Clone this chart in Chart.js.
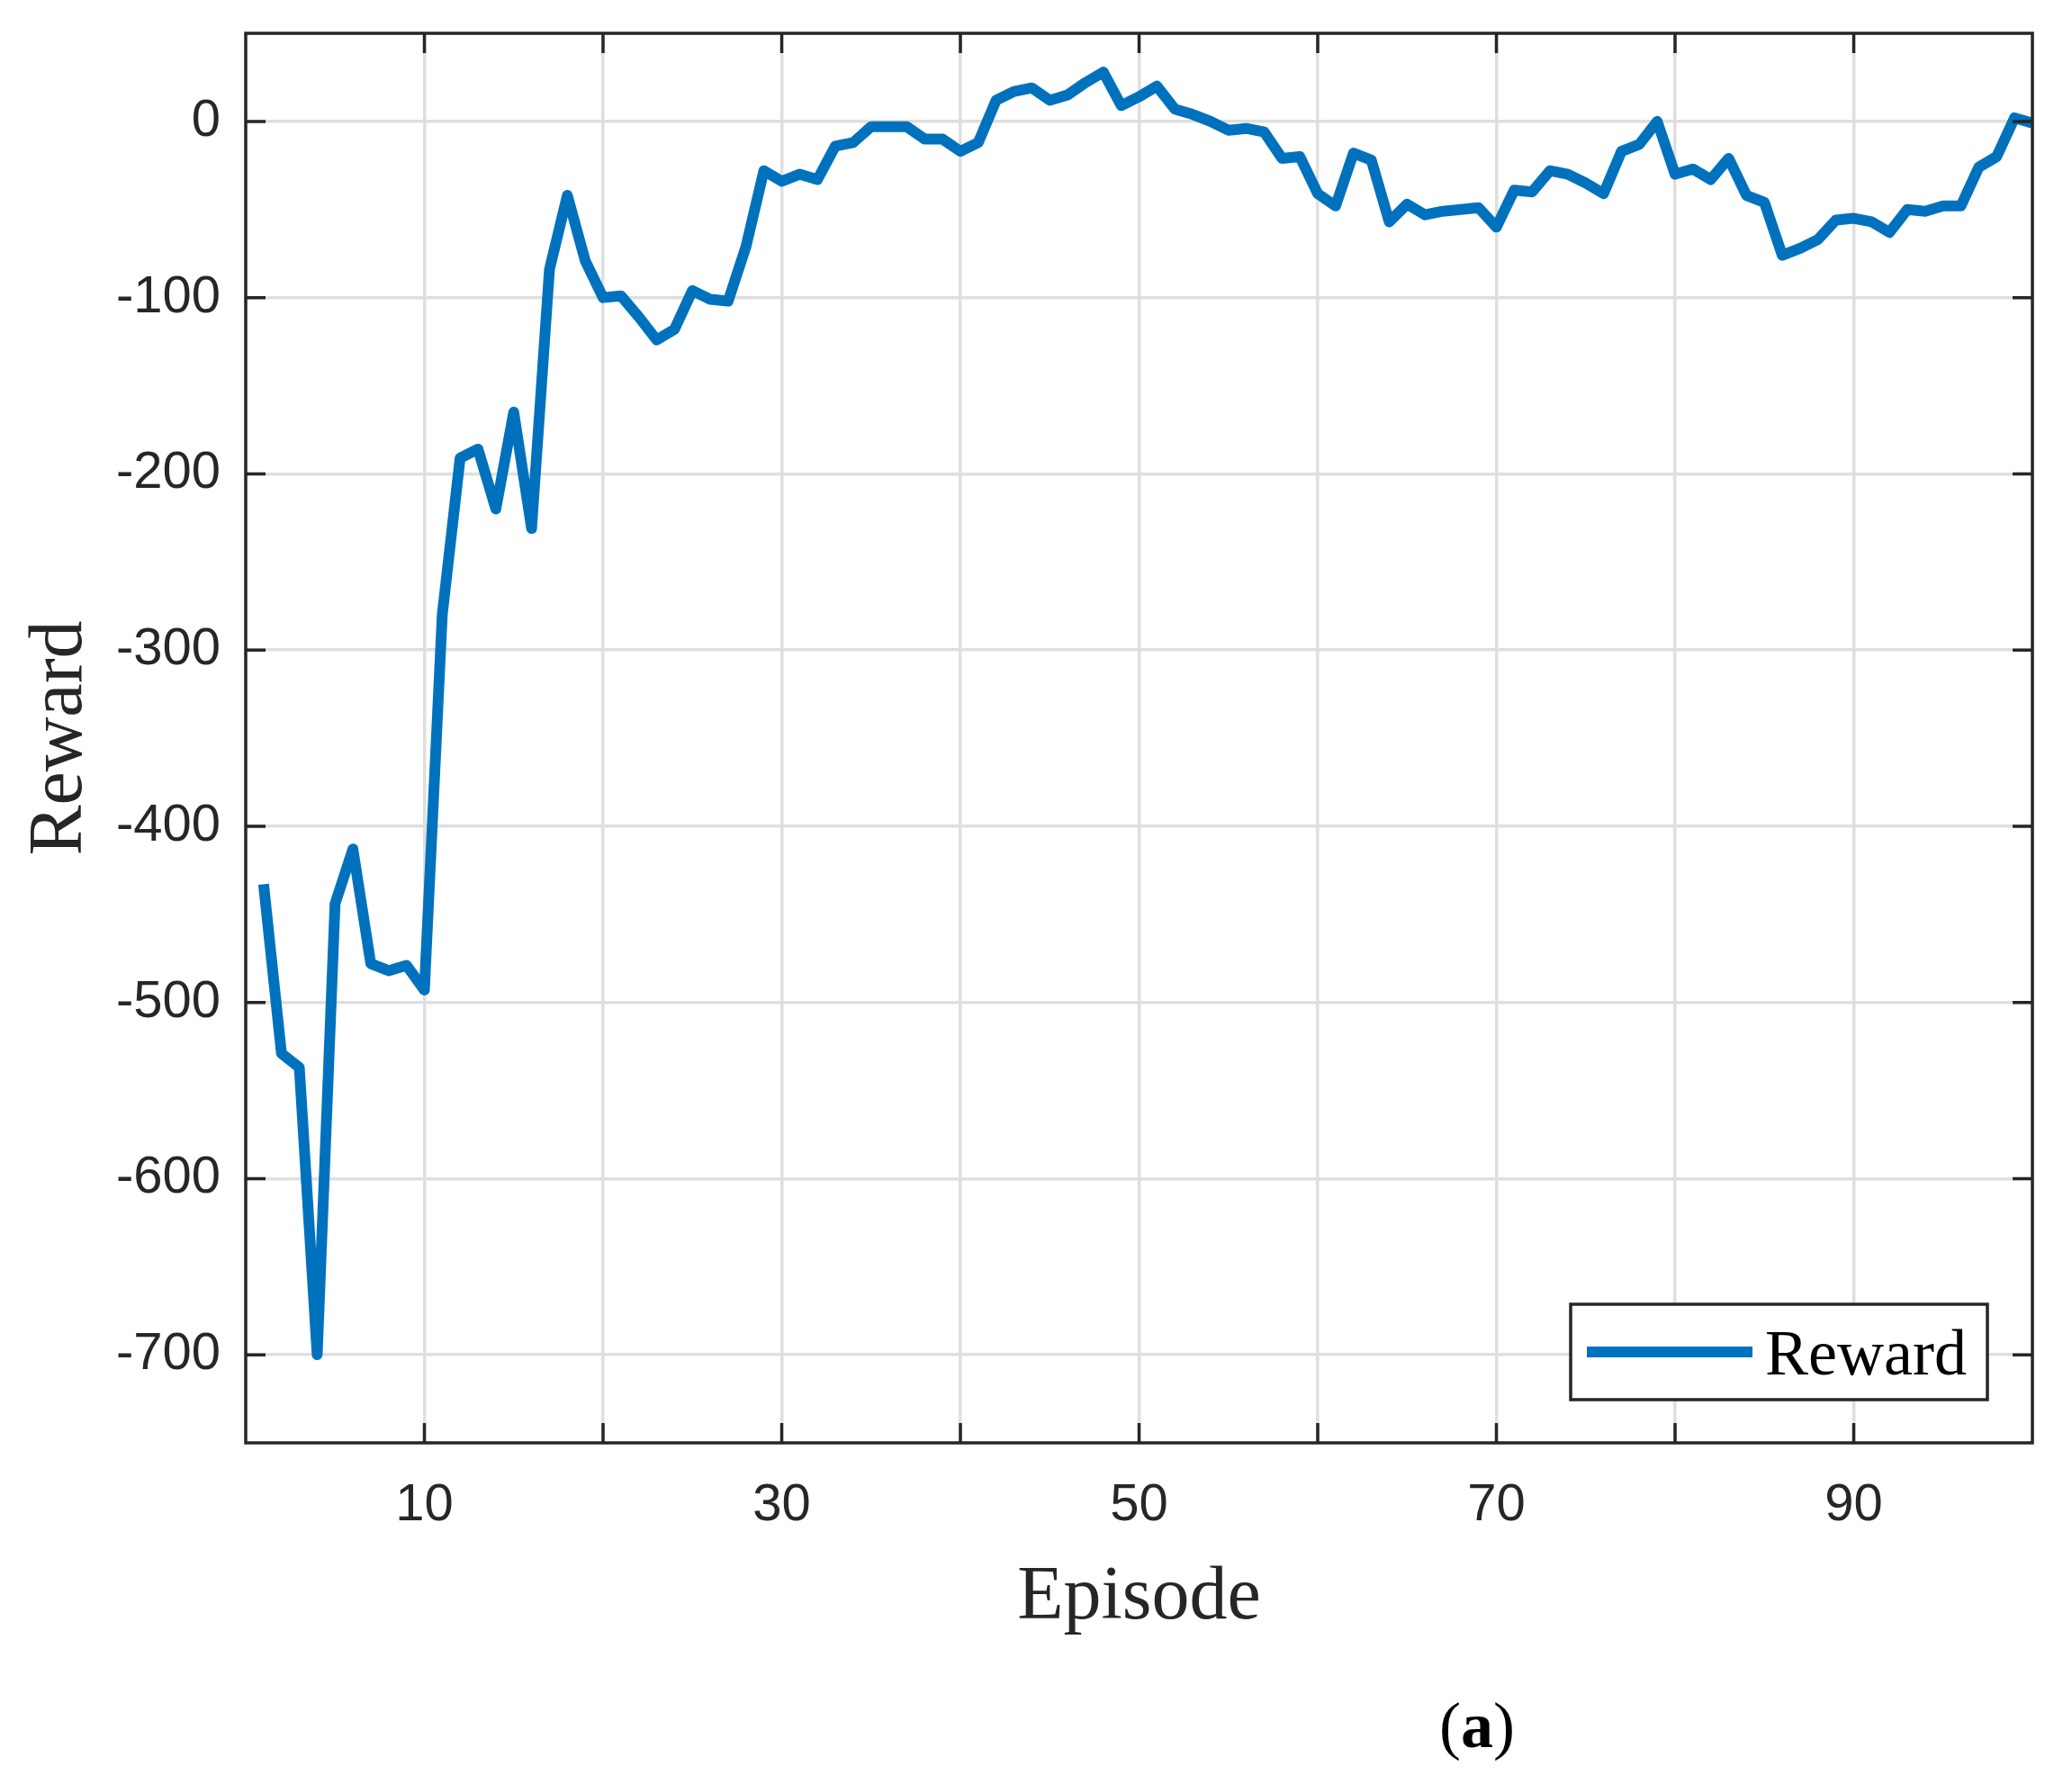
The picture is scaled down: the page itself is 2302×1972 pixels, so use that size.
<!DOCTYPE html>
<html>
<head>
<meta charset="utf-8">
<title>Reward per episode</title>
<script src="https://cdn.jsdelivr.net/npm/chart.js@4.4.1/dist/chart.umd.min.js"></script>
<style>
  html, body { margin: 0; padding: 0; background: #ffffff; }
  #wrap { width: 2302px; height: 1972px; }
</style>
</head>
<body>
<div id="wrap"><canvas id="rewardChart" width="2302" height="1972"></canvas></div>
<script>
// Reward per training episode (episodes 1..100)
const rewards = [
    -433, -529, -537, -700, -444, -413, -478, -482, -479, -493,
    -280, -191, -186, -220, -165, -231, -84, -42, -79, -100,
    -99, -111, -124, -118, -96, -101, -102, -71, -28, -34,
    -30, -33, -14, -12, -3, -3, -3, -10, -10, -17,
    -12, 12, 17, 19, 12, 15, 22, 28, 9, 14,
    20, 7, 4, 0, -5, -4, -6, -21, -20, -41,
    -48, -18, -22, -57, -47, -53, -51, -50, -49, -60,
    -39, -40, -28, -30, -35, -41, -17, -13, 0, -30,
    -27, -33, -21, -42, -46, -76, -72, -67, -56, -55,
    -57, -63, -50, -51, -48, -48, -26, -20, 2, -1
];
const episodes = rewards.map((_, i) => i + 1);

const xTickValues = [10, 20, 30, 40, 50, 60, 70, 80, 90];
const xTickLabels = ['10', '', '30', '', '50', '', '70', '', '90'];
const yTickValues = [-700, -600, -500, -400, -300, -200, -100, 0];

const seriesLabel = 'Reward';
const xTitle = 'Episode';
const yTitle = 'Reward';
const caption = ['(', 'a', ')'];

const lineColor = '#0072bd';
const axisColor = '#262626';
const gridColor = '#dfdfdf';
const sansFont = '"Liberation Sans", Arial, Helvetica, sans-serif';
const serifFont = '"Liberation Serif", "Times New Roman", Times, serif';

// box, inward ticks on all four sides
const axisFrame = {
    id: 'axisFrame',
    afterDatasetsDraw(chart) {
        const { ctx, chartArea: a, scales: { x, y } } = chart;
        const tickLen = 22;
        ctx.save();
        ctx.strokeStyle = axisColor;
        ctx.lineWidth = 3.5;
        ctx.beginPath();
        xTickValues.forEach(v => {
            const px = x.getPixelForValue(v);
            ctx.moveTo(px, a.bottom);
            ctx.lineTo(px, a.bottom - tickLen);
            ctx.moveTo(px, a.top);
            ctx.lineTo(px, a.top + tickLen);
        });
        yTickValues.forEach(v => {
            const py = y.getPixelForValue(v);
            ctx.moveTo(a.left, py);
            ctx.lineTo(a.left + tickLen, py);
            ctx.moveTo(a.right, py);
            ctx.lineTo(a.right - tickLen, py);
        });
        ctx.stroke();
        ctx.strokeRect(a.left, a.top, a.right - a.left, a.bottom - a.top);
        ctx.restore();
    }
};

// legend box in lower right corner, MATLAB style
const cornerLegend = {
    id: 'cornerLegend',
    afterDraw(chart) {
        const { ctx, chartArea: a } = chart;
        const ds = chart.data.datasets[0];
        const w = 463, h = 106;
        const left = a.right - 50 - w;
        const top = a.bottom - 48 - h;
        const mid = top + h / 2;
        ctx.save();
        ctx.fillStyle = '#ffffff';
        ctx.fillRect(left, top, w, h);
        ctx.strokeStyle = axisColor;
        ctx.lineWidth = 3.5;
        ctx.strokeRect(left, top, w, h);
        ctx.strokeStyle = ds.borderColor;
        ctx.lineWidth = ds.borderWidth;
        ctx.beginPath();
        ctx.moveTo(left + 18, mid);
        ctx.lineTo(left + 202, mid);
        ctx.stroke();
        ctx.fillStyle = '#000000';
        ctx.font = '72px ' + serifFont;
        ctx.textBaseline = 'alphabetic';
        ctx.textAlign = 'left';
        ctx.fillText(ds.label, left + 216, mid + 25);
        ctx.restore();
    }
};

// "(a)" sub-figure caption under the axis title
const subCaption = {
    id: 'subCaption',
    afterDraw(chart) {
        const { ctx } = chart;
        const fonts = ['72px ' + serifFont, 'bold 72px ' + serifFont, '72px ' + serifFont];
        ctx.save();
        ctx.fillStyle = '#000000';
        ctx.textBaseline = 'alphabetic';
        ctx.textAlign = 'left';
        let total = 0;
        const widths = caption.map((s, i) => {
            ctx.font = fonts[i];
            const wd = ctx.measureText(s).width;
            total += wd;
            return wd;
        });
        let cx = 1641 - total / 2;
        caption.forEach((s, i) => {
            ctx.font = fonts[i];
            ctx.fillText(s, cx, 1941);
            cx += widths[i];
        });
        ctx.restore();
    }
};

function drawChart() {
    const ctx = document.getElementById('rewardChart').getContext('2d');

    new Chart(ctx, {
        type: 'line',
        data: {
            labels: episodes,
            datasets: [{
                label: seriesLabel,
                data: rewards.map((r, i) => ({ x: episodes[i], y: r })),
                borderColor: lineColor,
                backgroundColor: lineColor,
                borderWidth: 12,
                borderJoinStyle: 'round',
                borderCapStyle: 'butt',
                pointRadius: 0,
                tension: 0,
                fill: false
            }]
        },
        options: {
            responsive: false,
            animation: false,
            layout: {
                padding: { left: 0, top: 37, right: 44, bottom: 146 }
            },
            plugins: {
                legend: { display: false },
                tooltip: { enabled: false }
            },
            scales: {
                x: {
                    type: 'linear',
                    min: 0,
                    max: 100,
                    afterBuildTicks: axis => {
                        axis.ticks = xTickValues.map(v => ({ value: v }));
                    },
                    afterFit: scale => {
                        scale.height = 223;
                        scale.paddingLeft = 0;
                        scale.paddingRight = 0;
                    },
                    ticks: {
                        autoSkip: false,
                        maxRotation: 0,
                        padding: 35,
                        color: axisColor,
                        font: { family: sansFont, size: 58 },
                        callback: (value) => {
                            const idx = xTickValues.indexOf(value);
                            return idx >= 0 ? xTickLabels[idx] : '';
                        }
                    },
                    grid: { color: gridColor, lineWidth: 3.5, drawTicks: false },
                    border: { display: false },
                    title: {
                        display: true,
                        text: xTitle,
                        color: axisColor,
                        font: { family: serifFont, size: 84 },
                        padding: { top: 0, bottom: 0 }
                    }
                },
                y: {
                    min: -750,
                    max: 50,
                    afterBuildTicks: axis => {
                        axis.ticks = yTickValues.map(v => ({ value: v }));
                    },
                    afterFit: scale => {
                        scale.width = 273;
                        scale.paddingTop = 0;
                        scale.paddingBottom = 0;
                    },
                    ticks: {
                        padding: 28,
                        color: axisColor,
                        font: { family: sansFont, size: 58 },
                        callback: value => String(value)
                    },
                    grid: { color: gridColor, lineWidth: 3.5, drawTicks: false },
                    border: { display: false },
                    title: {
                        display: true,
                        text: yTitle,
                        color: axisColor,
                        font: { family: serifFont, size: 84 },
                        padding: { top: 18, bottom: 0 }
                    }
                }
            }
        },
        plugins: [axisFrame, cornerLegend, subCaption]
    });
}

document.addEventListener('DOMContentLoaded', drawChart);
</script>
</body>
</html>
